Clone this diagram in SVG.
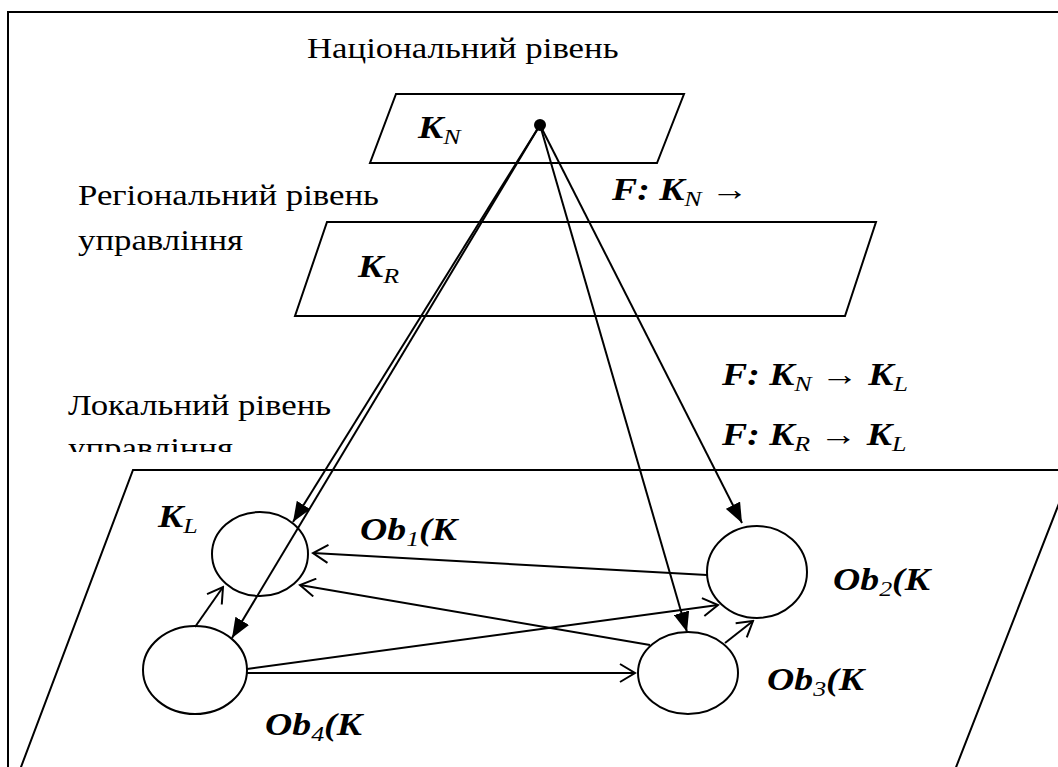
<svg xmlns="http://www.w3.org/2000/svg" width="1058" height="767" viewBox="0 0 1058 767">
  <style>
    .frame { fill: none; stroke: #000; stroke-width: 2; }
    .plane { fill: none; stroke: #000; stroke-width: 2; }
    .node { fill: none; stroke: #000; stroke-width: 2; }
    text { font-family: "Liberation Serif", "Times New Roman", serif; fill: #000; }
    .cap { font-size: 29px; }
    .math { font-size: 32px; font-weight: bold; font-style: italic; }
    .sub { font-size: 22px; font-weight: normal; }
    .arr { font-weight: normal; font-style: normal; }
    .link { fill: none; stroke: #000; stroke-width: 2; }
  </style>
  <defs>
    <marker id="solid" markerUnits="userSpaceOnUse" markerWidth="22" markerHeight="16" refX="20" refY="8" orient="auto">
      <path d="M0,0 L20,8 L0,16 Z" fill="#000"/>
    </marker>
    <marker id="open" markerUnits="userSpaceOnUse" markerWidth="18" markerHeight="20" refX="16" refY="10" orient="auto">
      <path d="M1,1 L16,10 L1,19" fill="none" stroke="#000" stroke-width="2"/>
    </marker>
    <clipPath id="cutLocal">
      <rect x="0" y="0" width="1058" height="452"/>
    </clipPath>
  </defs>

  <rect width="1058" height="767" fill="#fff"/>
  <!-- outer frame, open to the right and bottom edges -->
  <rect class="frame" x="8" y="12" width="1070" height="780"/>

  <!-- level captions (type is set slightly wide) -->
  <g id="captions">
    <text class="cap" transform="translate(307,58) scale(1.2,1)">Національний рівень</text>
    <text class="cap" transform="translate(78,205) scale(1.2,1)">Регіональний рівень</text>
    <text class="cap" transform="translate(78,250) scale(1.2,1)">управління</text>
    <g clip-path="url(#cutLocal)">
      <text class="cap" transform="translate(68,415) scale(1.2,1)">Локальний рівень</text>
      <text class="cap" transform="translate(68,458) scale(1.2,1)">управління</text>
    </g>
  </g>

  <!-- planes -->
  <g id="plane-national">
    <polygon class="plane" points="396,94 684,94 657,163 370,163"/>
    <text class="math" transform="translate(418,138) scale(1.18,1)">K<tspan class="sub" dy="6">N</tspan></text>
  </g>
  <g id="plane-regional">
    <polygon class="plane" points="327,222 876,222 845,316 295,316"/>
    <text class="math" transform="translate(358,277) scale(1.18,1)">K<tspan class="sub" dy="6">R</tspan></text>
  </g>
  <g id="plane-local">
    <polygon class="plane" points="133,470 1072,470 953,775 18,775"/>
    <text class="math" transform="translate(158,527) scale(1.18,1)">K<tspan class="sub" dy="6">L</tspan></text>
  </g>

  <!-- mapping labels -->
  <g id="mappings">
    <text class="math" transform="translate(612,200) scale(1.18,1)">F: K<tspan class="sub" dy="6">N</tspan><tspan class="arr" dy="-6"> →</tspan></text>
    <text class="math" transform="translate(722,385) scale(1.18,1)">F: K<tspan class="sub" dy="6">N</tspan><tspan class="arr" dy="-6"> → </tspan>K<tspan class="sub" dy="6">L</tspan></text>
    <text class="math" transform="translate(722,445) scale(1.18,1)">F: K<tspan class="sub" dy="6">R</tspan><tspan class="arr" dy="-6"> → </tspan>K<tspan class="sub" dy="6">L</tspan></text>
  </g>

  <!-- connectors -->
  <g id="connectors">
    <line class="link" x1="540" y1="125" x2="293" y2="522" marker-end="url(#solid)"/>
    <line class="link" x1="540" y1="125" x2="232" y2="638" marker-end="url(#solid)"/>
    <line class="link" x1="540" y1="125" x2="687" y2="632" marker-end="url(#solid)"/>
    <line class="link" x1="540" y1="125" x2="742" y2="523" marker-end="url(#solid)"/>

    <line class="link" x1="707" y1="575" x2="313" y2="553" marker-end="url(#open)"/>
    <line class="link" x1="650" y1="645" x2="300" y2="585" marker-end="url(#open)"/>
    <line class="link" x1="195" y1="627" x2="223" y2="587" marker-end="url(#open)"/>
    <line class="link" x1="247" y1="669" x2="718" y2="605" marker-end="url(#open)"/>
    <line class="link" x1="247" y1="673" x2="635" y2="673" marker-end="url(#open)"/>
    <line class="link" x1="725" y1="643" x2="753" y2="621" marker-end="url(#open)"/>
  </g>

  <!-- object nodes -->
  <g id="ob1">
    <ellipse class="node" cx="260" cy="554" rx="48" ry="42"/>
    <text class="math" transform="translate(360,540) scale(1.18,1)">Ob<tspan class="sub" dy="6">1</tspan><tspan dy="-6">(K</tspan></text>
  </g>
  <g id="ob2">
    <ellipse class="node" cx="757" cy="572" rx="50" ry="46"/>
    <text class="math" transform="translate(833,590) scale(1.18,1)">Ob<tspan class="sub" dy="6">2</tspan><tspan dy="-6">(K</tspan></text>
  </g>
  <g id="ob3">
    <ellipse class="node" cx="688" cy="673" rx="50" ry="41"/>
    <text class="math" transform="translate(767,690) scale(1.18,1)">Ob<tspan class="sub" dy="6">3</tspan><tspan dy="-6">(K</tspan></text>
  </g>
  <g id="ob4">
    <ellipse class="node" cx="195" cy="670" rx="52" ry="44"/>
    <text class="math" transform="translate(265,735) scale(1.18,1)">Ob<tspan class="sub" dy="6">4</tspan><tspan dy="-6">(K</tspan></text>
  </g>

  <circle cx="540" cy="125" r="6" fill="#000"/>
</svg>
